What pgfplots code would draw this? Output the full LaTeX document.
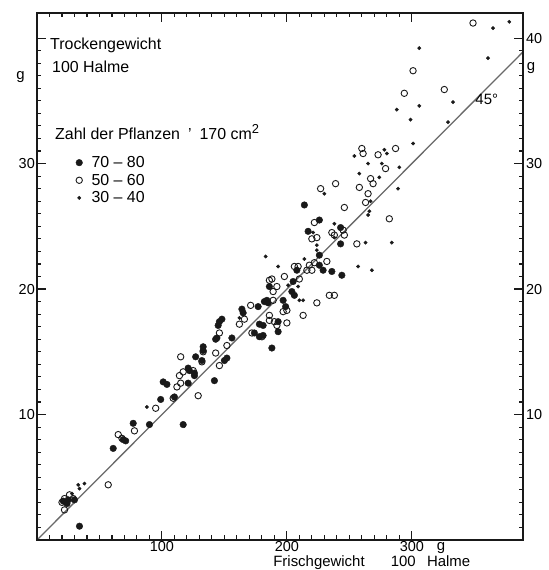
\documentclass[border=0pt]{standalone}
\usepackage{pgfplots}
\pgfplotsset{compat=1.18}
\usepackage{pgfplotstable}
\usepackage{fontspec}
\setmainfont{Liberation Sans}

\definecolor{ink}{RGB}{25,25,25}
\definecolor{refline}{RGB}{105,105,105}

% Frischgewicht (g/100 Halme) vs. Trockengewicht (g/100 Halme)
% 70 - 80 Pflanzen
\pgfplotstableread{
x y
214 26.7
226 25.5
243 24.9
243 23.6
217 24.6
226 22.7
226 21.9
229 21.5
236 21.4
244 21.1
208 21.5
205 20.6
204 19.8
206 19.5
197 19.1
199 18.6
188 15.3
186 20.2
184 19.1
185 18.9
182 19.0
177 18.6
164 18.4
165 18.1
148 17.6
146 17.4
145 17.1
193 17.4
178 17.2
181 17.1
174 16.5
178 16.2
181 16.3
144 16.1
156 16.1
193 16.6
143 16.0
150 14.3
152 14.5
142 12.7
133 15.4
133 15.1
127 14.6
132 14.3
121 13.7
122 13.5
126 13.3
126 13.1
121 12.5
101 12.6
104 12.4
110 11.4
99 11.2
90 9.2
77 9.3
117 9.2
69 8.0
71 7.9
61 7.3
34 1.1
24 2.9
25 3.2
30 3.2
21 3.1
}\dataA

% 50 - 60 Pflanzen
\pgfplotstableread{
x y
349 41.2
301 37.4
294 35.6
326 35.9
287 31.2
260 31.2
261 30.8
273 30.7
279 29.6
267 28.8
239 28.4
269 28.4
227 28.0
258 28.1
265 27.6
263 26.9
246 26.5
282 25.6
222 25.3
236 24.5
238 24.3
245 24.7
246 24.3
220 24.0
224 24.1
256 23.6
218 21.9
222 22.1
232 22.2
216 21.5
220 21.5
206 21.8
209 21.8
198 21.0
210 20.8
186 20.7
192 20.2
189 19.8
234 19.5
238 19.5
224 18.9
189 19.1
213 17.9
200 17.3
197 18.2
200 18.3
186 17.9
190 17.4
192 17.1
188 20.8
171 18.7
162 17.2
166 17.6
186 17.5
172 16.5
180 16.2
146 16.5
143 14.9
152 15.5
146 13.9
133 15.0
115 14.6
132 14.2
125 13.5
114 13.1
117 13.4
115 12.5
112 12.2
109 11.3
129 11.5
95 10.5
78 8.7
65 8.4
68 8.1
57 4.4
20 3.0
22 3.3
26 3.6
29 3.3
22 2.4
}\dataB

% 30 - 40 Pflanzen
\pgfplotstableread{
x y
365 40.8
378 41.3
306 39.2
361 38.4
288 34.3
306 34.6
333 34.9
299 33.5
329 33.3
301 31.6
278 31.1
280 30.8
254 30.6
265 30.0
276 30.0
290 29.7
258 29.2
274 28.9
230 27.6
289 28.0
267 27.0
266 26.2
265 25.9
238 25.2
284 23.7
217 24.7
221 24.5
238 24.1
263 23.7
224 23.5
224 23.1
214 22.4
193 21.8
257 21.8
268 21.5
201 20.3
209 20.2
210 19.1
213 19.1
183 22.6
162 17.7
118 9.1
88 10.6
33 4.4
38 4.5
34 4.1
28 3.7
}\dataC

\begin{document}
\begin{tikzpicture}[font=\fontsize{15}{17}\selectfont]
% page frame: axis box is 486bp x 527bp with its lower left corner at (0,0)
\path (-37bp,-30bp) rectangle (512bp,540bp);

% data, legend and annotations
\begin{axis}[
  scale only axis,
  width=486bp, height=527bp,
  xmin=0, xmax=389, ymin=0, ymax=42,
  hide axis,
  clip mode=individual,
  legend style={at={(axis cs:31,30.75)}, anchor=north west, draw=none, fill=none,
    inner sep=0pt, row sep=1bp,
    /tikz/every odd column/.append style={column sep=7bp},
    font=\fontsize{16}{16.5}\selectfont},
  legend cell align=left,
]
\addplot[refline, line width=1.3bp, forget plot] coordinates {(0,0) (389,38.9)};
\addplot[only marks, mark=*, mark size=3.3bp, ink] table {\dataA};
\addlegendentry{70 -- 80}
\addplot[only marks, mark=o, mark size=3.2bp, ink, mark options={line width=0.9bp}] table {\dataB};
\addlegendentry{50 -- 60}
\addplot[only marks, mark=*, mark size=1.7bp, ink] table {\dataC};
\addlegendentry{30 -- 40}

\node[anchor=west, inner sep=0pt, font=\fontsize{16}{17}\selectfont] at (axis cs:10.4,39.4) {Trockengewicht};
\node[anchor=west, inner sep=0pt, font=\fontsize{16}{17}\selectfont] at (axis cs:12,37.7) {100 Halme};
\node[anchor=west, inner sep=0pt, font=\fontsize{16}{17}\selectfont] at (axis cs:14.4,32.5) {Zahl der Pflanzen\enspace’\enspace170 cm\textsuperscript{\fontsize{13}{13}\selectfont 2}};
\node at (axis cs:360,35.1) {45°};
% right-hand scale labels
\node[anchor=west, inner sep=1bp, xshift=2bp, font=\fontsize{14.5}{16}\selectfont] at (axis cs:389,10) {10};
\node[anchor=west, inner sep=1bp, xshift=2bp, font=\fontsize{14.5}{16}\selectfont] at (axis cs:389,20) {20};
\node[anchor=west, inner sep=1bp, xshift=2bp, font=\fontsize{14.5}{16}\selectfont] at (axis cs:389,30) {30};
\node[anchor=west, inner sep=1bp, xshift=2bp, font=\fontsize{14.5}{16}\selectfont] at (axis cs:389,40) {40};
\node[anchor=east, inner sep=0pt] at (axis cs:-9.6,36.9) {g};
\node[anchor=west, inner sep=0pt] at (axis cs:392,37.6) {g};
\node[anchor=north west, inner sep=1bp] at (axis cs:319,-0.1) {g};
\node[anchor=base west, inner sep=0pt] at (axis cs:189,-2.12) {Frischgewicht};
\node[anchor=base west, inner sep=0pt] at (axis cs:283,-2.12) {100};
\node[anchor=base west, inner sep=0pt] at (axis cs:312,-2.12) {Halme};
\end{axis}

% frame, ticks and tick labels
\begin{axis}[
  scale only axis,
  width=486bp, height=527bp,
  xmin=0, xmax=389, ymin=0, ymax=42,
  axis line style={ink, line width=1.2bp},
  xtick={0,100,200,300}, ytick={0,10,20,30,40},
  xticklabels={,100,200,300},
  yticklabels={,10,20,30,},
  minor x tick num=9,
  minor y tick num=9,
  major tick length=9bp, minor tick length=4.5bp,
  tick style={ink, line width=1.1bp},
  /pgf/number format/assume math mode=true,
  xticklabel style={inner sep=1bp, font=\fontsize{14.5}{16}\selectfont},
  yticklabel style={inner sep=1bp, xshift=-1bp, font=\fontsize{14.5}{16}\selectfont},
]
\end{axis}
\end{tikzpicture}
\end{document}
